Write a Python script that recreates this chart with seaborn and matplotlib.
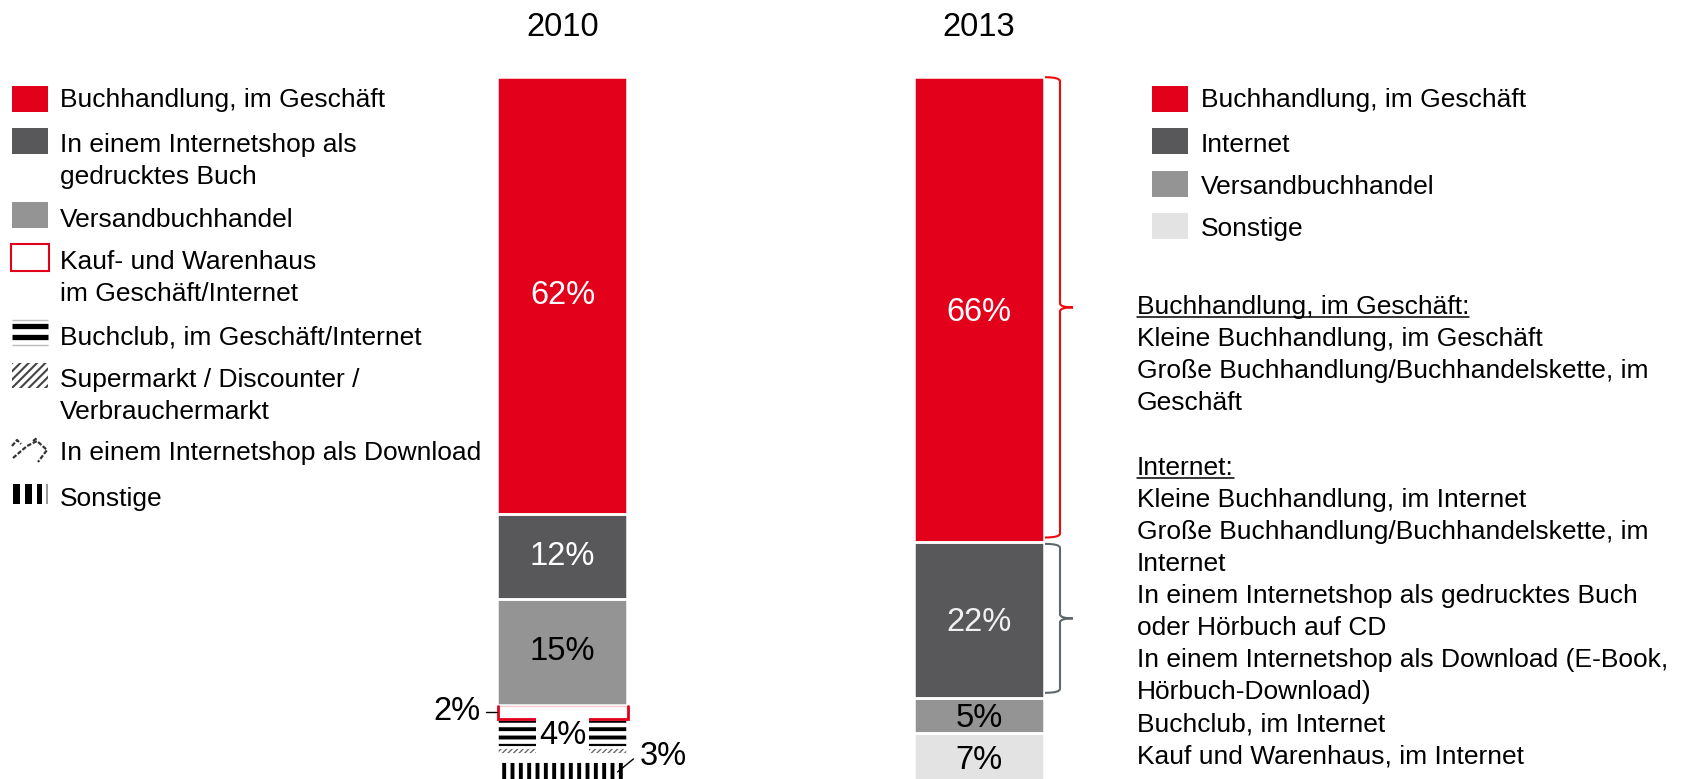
import matplotlib
matplotlib.use("Agg")
import matplotlib.pyplot as plt
from matplotlib.patches import Rectangle, PathPatch
from matplotlib.path import Path
import seaborn as sns

# ---------------------------------------------------------------- data
years = ["2010", "2013"]

channels_2010 = [
    "Buchhandlung, im Geschäft",
    "In einem Internetshop als\ngedrucktes Buch",
    "Versandbuchhandel",
    "Kauf- und Warenhaus\nim Geschäft/Internet",
    "Buchclub, im Geschäft/Internet",
    "Supermarkt / Discounter /\nVerbrauchermarkt",
    "In einem Internetshop als Download",
    "Sonstige",
]
shares_2010 = [62, 12, 15, 2, 4, 1, 1, 3]
labelled_2010 = [True, True, True, True, True, False, False, True]

channels_2013 = ["Buchhandlung, im Geschäft", "Internet", "Versandbuchhandel", "Sonstige"]
shares_2013 = [66, 22, 5, 7]

note_heads = ["Buchhandlung, im Geschäft:", "Internet:"]
note_store = [
    "Kleine Buchhandlung, im Geschäft",
    "Große Buchhandlung/Buchhandelskette, im",
    "Geschäft",
]
note_online = [
    "Kleine Buchhandlung, im Internet",
    "Große Buchhandlung/Buchhandelskette, im",
    "Internet",
    "In einem Internetshop als gedrucktes Buch",
    "oder Hörbuch auf CD",
    "In einem Internetshop als Download (E-Book,",
    "Hörbuch-Download)",
    "Buchclub, im Internet",
    "Kauf und Warenhaus, im Internet",
]

# ---------------------------------------------------------------- style
RED = "#e2001a"
DARK = "#58585a"
MID = "#949495"
LIGHT = "#e3e3e3"
BRACE_RED = "#f20a0a"
BRACE_GREY = "#5e686c"

sns.set_theme(style="white")
plt.rcParams["font.family"] = ["Liberation Sans", "DejaVu Sans"]
plt.rcParams["hatch.linewidth"] = 2.8

W_PX, H_PX = 1689, 779
FS = 19          # body text size (pt)
FS_NUM = 23.5    # values and year headings
EM = FS * 100 / 72
CAP_SHIFT = 0.358 * EM   # centre of capitals -> baseline

fig = plt.figure(figsize=(W_PX / 100, H_PX / 100), dpi=100)
fig.patch.set_facecolor("white")

# bar axes: x in figure pixels, y in percent (0 at the top)
Y_TOP, PX_PER_PCT = 76.5, 7.06
y_bottom_px = Y_TOP + 100 * PX_PER_PCT
ax = fig.add_axes([0, 1 - y_bottom_px / H_PX, 1, (y_bottom_px - Y_TOP) / H_PX])
ax.set_xlim(0, W_PX)
ax.set_ylim(100, 0)
ax.axis("off")
PX = 1 / PX_PER_PCT  # percent per pixel

# overlay axes in plain pixel coordinates for the legends and notes
ov = fig.add_axes([0, 0, 1, 1], zorder=10)
ov.set_xlim(0, W_PX)
ov.set_ylim(H_PX, 0)
ov.axis("off")
ov.patch.set_alpha(0)

BAR_W = 130
X_2010, X_2013 = 562.5, 979.0


def seg(x, bottom, h, fc, hatch=None, hc="black", hlw=None, sep=True, z=2):
    bars = ax.bar(x, h, bottom=bottom, width=BAR_W, color=fc,
                  edgecolor=hc if hatch else fc, linewidth=0,
                  hatch=hatch, zorder=z)
    if hatch and hlw is not None and hasattr(bars[0], "set_hatch_linewidth"):
        bars[0].set_hatch_linewidth(hlw)
    if sep:
        ax.bar(x, h, bottom=bottom, width=BAR_W, fill=False,
               edgecolor="white", linewidth=1.8, zorder=3)


def pct(v):
    return f"{v}%"


# ---------------------------------------------------------------- 2010 bar
styles_2010 = [
    dict(fc=RED),
    dict(fc=DARK),
    dict(fc=MID),
    None,  # open red box
    dict(fc="white", hatch="--", hc="black"),
    dict(fc="white", hatch="//////", hc="#6a6a6a", hlw=1.0),
    dict(fc="white"),
    dict(fc="white", hatch="||", hc="black"),
]
text_col_2010 = ["white", "white", "black"]

cum = 0
for i, (v, st) in enumerate(zip(shares_2010, styles_2010)):
    mid = cum + v / 2
    if st is None:
        x0, x1 = X_2010 - BAR_W / 2 + 1, X_2010 + BAR_W / 2 + 1
        top, bot = cum + 1.5 * PX, cum + v
        ax.plot([x0, x1], [top, top], color="#f8c8ce", lw=1.0, zorder=4)
        ax.plot([x0, x0, x1, x1], [top, bot, bot, top], color=RED, lw=2.0,
                zorder=4, solid_joinstyle="miter")
    else:
        seg(X_2010, cum, v, **st)
    if labelled_2010[i]:
        if i < 3:
            ax.text(X_2010, mid, pct(v), ha="center", va="center",
                    fontsize=FS_NUM, color=text_col_2010[i], zorder=6)
        elif i == 3:
            ax.plot([X_2010 - BAR_W / 2 - 11, X_2010 - BAR_W / 2], [mid, mid],
                    color="black", lw=1.0, zorder=6)
            ax.text(X_2010 - BAR_W / 2 - 17, mid, pct(v), ha="right",
                    va="center", fontsize=FS_NUM, color="black", zorder=6)
        elif i == 4:
            ax.text(X_2010, mid + 0.4, pct(v), ha="center", va="center",
                    fontsize=FS_NUM, color="black", zorder=6,
                    bbox=dict(boxstyle="square,pad=0.1", fc="white",
                              ec="none"))
        else:
            x0 = X_2010 + BAR_W / 2 - 10
            ax.plot([x0, x0 + 16], [mid, mid - 13 * PX], color="black",
                    lw=1.0, zorder=6)
            ax.text(x0 + 22, mid - 15 * PX, pct(v), ha="left", va="center",
                    fontsize=FS_NUM, color="black", zorder=6)
    cum += v

# ---------------------------------------------------------------- 2013 bar
fills_2013 = [RED, DARK, MID, LIGHT]
text_col_2013 = ["white", "#f0f0f0", "black", "black"]
cum = 0
spans_2013 = []
for v, fc, tc in zip(shares_2013, fills_2013, text_col_2013):
    seg(X_2013, cum, v, fc=fc)
    ax.text(X_2013, cum + v / 2 + 0.4, pct(v), ha="center", va="center",
            fontsize=FS_NUM, color=tc, zorder=6)
    spans_2013.append((cum, cum + v))
    cum += v


def brace(y0, y1, color):
    xe = X_2013 + BAR_W / 2 + 1
    xl = xe + 15
    xt = xe + 28
    r = 4 * PX
    ym = (y0 + y1) / 2
    verts = [
        (xe, y0), (xl, y0), (xl, y0 + r),
        (xl, ym - r), (xl, ym), (xt, ym),
        (xl, ym), (xl, ym + r),
        (xl, y1 - r), (xl, y1), (xe, y1),
    ]
    codes = [Path.MOVETO, Path.CURVE3, Path.CURVE3,
             Path.LINETO, Path.CURVE3, Path.CURVE3,
             Path.CURVE3, Path.CURVE3,
             Path.LINETO, Path.CURVE3, Path.CURVE3]
    ax.add_patch(PathPatch(Path(verts, codes), fill=False, edgecolor=color,
                           linewidth=1.5, zorder=5, clip_on=False))


brace(spans_2013[0][0] + 0.1, spans_2013[0][1] - 0.7, BRACE_RED)
brace(spans_2013[1][0] + 0.2, spans_2013[1][1] - 0.7, BRACE_GREY)

# ---------------------------------------------------------------- headings
for x, yr in zip([X_2010, X_2013], years):
    ov.text(x, 24 + 0.358 * FS_NUM * 100 / 72, yr, ha="center",
            va="baseline", fontsize=FS_NUM, color="black")


def line_text(x, yc, s, **kw):
    return ov.text(x, yc + CAP_SHIFT, s, ha="left", va="baseline",
                   fontsize=FS, color="black", **kw)


# ---------------------------------------------------------------- left legend
ICON_X, ICON_W = 12, 36
TXT_X = 60
LINE = 32
left_rows = [86, 128, 202, 244, 319, 363, 437, 484]
left_text_y = [98, 143, 218, 260, 335, 378, 451, 497]

for name, top, yc, kind in zip(channels_2010, left_rows, left_text_y,
                               ["red", "dark", "mid", "box", "club",
                                "diag", "zig", "vert"]):
    if kind in ("red", "dark", "mid"):
        ov.add_patch(Rectangle((ICON_X, top), ICON_W, 26, lw=0,
                               color={"red": RED, "dark": DARK, "mid": MID}[kind]))
    elif kind == "box":
        ov.add_patch(Rectangle((ICON_X - 1, top), ICON_W + 2, 27, fill=False,
                               edgecolor=RED, lw=1.5))
    elif kind == "club":
        for yy, lw, c in [(top + 0.5, 1.0, "#bbbbbb"), (top + 6.5, 3.8, "black"),
                          (top + 17.5, 3.8, "black"), (top + 25.5, 1.0, "#bbbbbb")]:
            ov.plot([ICON_X, ICON_X + ICON_W], [yy, yy], color=c, lw=lw,
                    solid_capstyle="butt")
    elif kind == "diag":
        p = Rectangle((ICON_X, top), ICON_W, 25, facecolor="white",
                      edgecolor="#444444", lw=0, hatch="////")
        if hasattr(p, "set_hatch_linewidth"):
            p.set_hatch_linewidth(1.5)
        ov.add_patch(p)
    elif kind == "zig":
        for pts in ([(12, 446), (17, 440), (21, 444)],
                    [(13, 458), (27, 446), (37, 441), (47, 450), (38, 462)],
                    [(33, 441), (37, 438)]):
            xs, ys = zip(*pts)
            ov.plot(xs, ys, color="#333333", lw=1.6, ls=(0, (2, 0.8)))
    elif kind == "vert":
        for x0, w in [(13, 7), (25, 7), (37, 5), (46, 2)]:
            ov.add_patch(Rectangle((x0, top), w, 20, lw=0,
                                   color="black" if w > 2 else "#999999"))
    for k, part in enumerate(name.split("\n")):
        line_text(TXT_X, yc + k * LINE, part)

# ---------------------------------------------------------------- right legend
R_ICON_X, R_TXT_X = 1152, 1201
right_top = [86, 128, 171, 213]
right_yc = [98, 143, 185, 227]
for name, fc, top, yc in zip(channels_2013, fills_2013, right_top, right_yc):
    ov.add_patch(Rectangle((R_ICON_X, top), 36, 26, lw=0, color=fc))
    line_text(R_TXT_X, yc, name)

# ---------------------------------------------------------------- notes
NOTE_X = 1137
renderer = fig.canvas.get_renderer()


def underlined(x, yc, s):
    t = line_text(x, yc, s)
    bb = t.get_window_extent(renderer=renderer)
    yb = yc + CAP_SHIFT + 3
    ov.plot([bb.x0, bb.x1], [yb, yb], color="black", lw=1.1)


underlined(NOTE_X, 305, note_heads[0])
for k, s in enumerate(note_store):
    line_text(NOTE_X, 337 + k * LINE, s)
underlined(NOTE_X, 466, note_heads[1])
for k, s in enumerate(note_online):
    line_text(NOTE_X, 498 + k * LINE, s)

fig.savefig("out.png", dpi=100, facecolor="white")
